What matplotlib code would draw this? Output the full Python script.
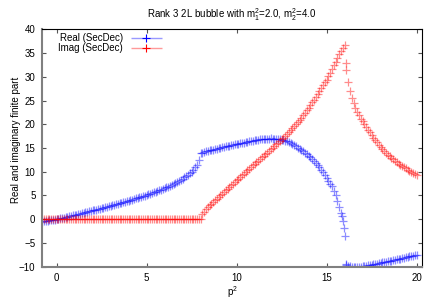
import matplotlib
matplotlib.use("Agg")
import matplotlib.pyplot as plt
from matplotlib.container import ErrorbarContainer
from matplotlib.legend_handler import HandlerErrorbar

plt.rcParams['font.family'] = ['Liberation Sans', 'DejaVu Sans']
plt.rcParams['mathtext.fontset'] = 'custom'
plt.rcParams['mathtext.rm'] = 'Liberation Sans'
plt.rcParams['mathtext.it'] = 'Liberation Sans:italic'

# ---------------- data ----------------
title = r'Rank 3 2L bubble with m$_1^2$=2.0, m$_2^2$=4.0'
xlabel = r'p$^2$'
ylabel = 'Real and imaginary finite part'
series_names = ['Real (SecDec)', 'Imag (SecDec)']
xticks = [0, 5, 10, 15, 20]
yticks = [-10, -5, 0, 5, 10, 15, 20, 25, 30, 35, 40]

p2_re = [-0.8, -0.7, -0.6, -0.5, -0.4, -0.3, -0.2, -0.1, 0.0,
         0.1, 0.2, 0.3, 0.4, 0.5, 0.6, 0.7, 0.8, 0.9, 1.0,
         1.1, 1.2, 1.3, 1.4, 1.5, 1.6, 1.7, 1.8, 1.9, 2.0,
         2.1, 2.2, 2.3, 2.4, 2.5, 2.6, 2.7, 2.8, 2.9, 3.0,
         3.1, 3.2, 3.3, 3.4, 3.5, 3.6, 3.7, 3.8, 3.9, 4.0,
         4.1, 4.2, 4.3, 4.4, 4.5, 4.6, 4.7, 4.8, 4.9, 5.0,
         5.1, 5.2, 5.3, 5.4, 5.5, 5.6, 5.7, 5.8, 5.9, 6.0,
         6.1, 6.2, 6.3, 6.4, 6.5, 6.6, 6.7, 6.8, 6.9, 7.0,
         7.1, 7.2, 7.3, 7.4, 7.5, 7.6, 7.7, 7.8, 7.9, 8.0,
         8.1, 8.2, 8.3, 8.4, 8.5, 8.6, 8.7, 8.8, 8.9, 9.0,
         9.1, 9.2, 9.3, 9.4, 9.5, 9.6, 9.7, 9.8, 9.9, 10.0,
         10.1, 10.2, 10.3, 10.4, 10.5, 10.6, 10.7, 10.8, 10.9, 11.0,
         11.1, 11.2, 11.3, 11.4, 11.5, 11.6, 11.7, 11.8, 11.9, 12.0,
         12.1, 12.2, 12.3, 12.4, 12.5, 12.6, 12.7, 12.8, 12.9, 13.0,
         13.1, 13.2, 13.3, 13.4, 13.5, 13.6, 13.7, 13.8, 13.9, 14.0,
         14.1, 14.2, 14.3, 14.4, 14.5, 14.6, 14.7, 14.8, 14.9, 15.0,
         15.1, 15.2, 15.3, 15.4, 15.5, 15.6, 15.7, 15.8, 15.85, 15.9, 15.95, 16.0,
         16.05, 16.1, 16.2, 16.3, 16.4, 16.5, 16.6, 16.7, 16.8, 16.9, 17.0,
         17.1, 17.2, 17.3, 17.4, 17.5, 17.6, 17.7, 17.8, 17.9, 18.0,
         18.1, 18.2, 18.3, 18.4, 18.5, 18.6, 18.7, 18.8, 18.9, 19.0,
         19.1, 19.2, 19.3, 19.4, 19.5, 19.6, 19.7, 19.8, 19.9, 20.0]
re_part = [-0.50, -0.44, -0.38, -0.32, -0.26, -0.19, -0.13, -0.06, 0.00,
           0.09, 0.18, 0.27, 0.36, 0.45, 0.54, 0.63, 0.72, 0.81, 0.90,
           0.99, 1.08, 1.18, 1.27, 1.36, 1.46, 1.55, 1.65, 1.74, 1.84,
           1.94, 2.03, 2.13, 2.23, 2.33, 2.43, 2.53, 2.63, 2.73, 2.84,
           2.94, 3.04, 3.15, 3.25, 3.36, 3.47, 3.58, 3.69, 3.80, 3.91,
           4.02, 4.14, 4.25, 4.37, 4.49, 4.61, 4.73, 4.86, 4.98, 5.11,
           5.24, 5.37, 5.51, 5.65, 5.79, 5.93, 6.08, 6.23, 6.39, 6.55,
           6.71, 6.88, 7.06, 7.24, 7.43, 7.63, 7.84, 8.06, 8.29, 8.53,
           8.79, 9.06, 9.35, 9.67, 10.02, 10.42, 10.90, 11.50, 12.45, 13.90,
           14.05, 14.17, 14.28, 14.38, 14.48, 14.58, 14.68, 14.78, 14.87, 14.96,
           15.05, 15.14, 15.23, 15.32, 15.41, 15.49, 15.58, 15.66, 15.74, 15.82,
           15.90, 15.98, 16.06, 16.14, 16.22, 16.30, 16.38, 16.46, 16.53, 16.60,
           16.67, 16.74, 16.80, 16.86, 16.91, 16.95, 16.98, 17.00, 17.01, 17.00,
           16.98, 16.94, 16.89, 16.82, 16.74, 16.64, 16.53, 16.40, 16.22, 16.00,
           15.80, 15.60, 15.35, 15.10, 14.85, 14.60, 14.30, 14.00, 13.70, 13.40,
           13.05, 12.70, 12.30, 11.90, 11.45, 10.95, 10.40, 9.85, 9.30, 8.70,
           8.10, 7.45, 6.90, 6.00, 5.00, 3.90, 2.60, 1.30, 0.60, -0.40, -1.90, -3.60,
           -9.45, -9.62, -9.80, -9.90, -9.96, -10.00, -10.02, -10.02, -10.00, -9.97, -9.92,
           -9.86, -9.80, -9.73, -9.66, -9.58, -9.50, -9.42, -9.34, -9.26, -9.18,
           -9.10, -9.02, -8.94, -8.86, -8.78, -8.70, -8.62, -8.54, -8.46, -8.38,
           -8.29, -8.20, -8.11, -8.02, -7.93, -7.84, -7.75, -7.66, -7.56, -7.46]

p2_im = [-0.8, -0.7, -0.6, -0.5, -0.4, -0.3, -0.2, -0.1, 0.0,
         0.1, 0.2, 0.3, 0.4, 0.5, 0.6, 0.7, 0.8, 0.9, 1.0,
         1.1, 1.2, 1.3, 1.4, 1.5, 1.6, 1.7, 1.8, 1.9, 2.0,
         2.1, 2.2, 2.3, 2.4, 2.5, 2.6, 2.7, 2.8, 2.9, 3.0,
         3.1, 3.2, 3.3, 3.4, 3.5, 3.6, 3.7, 3.8, 3.9, 4.0,
         4.1, 4.2, 4.3, 4.4, 4.5, 4.6, 4.7, 4.8, 4.9, 5.0,
         5.1, 5.2, 5.3, 5.4, 5.5, 5.6, 5.7, 5.8, 5.9, 6.0,
         6.1, 6.2, 6.3, 6.4, 6.5, 6.6, 6.7, 6.8, 6.9, 7.0,
         7.1, 7.2, 7.3, 7.4, 7.5, 7.6, 7.7, 7.8, 7.9, 8.0,
         8.1, 8.2, 8.3, 8.4, 8.5, 8.6, 8.7, 8.8, 8.9, 9.0,
         9.1, 9.2, 9.3, 9.4, 9.5, 9.6, 9.7, 9.8, 9.9, 10.0,
         10.1, 10.2, 10.3, 10.4, 10.5, 10.6, 10.7, 10.8, 10.9, 11.0,
         11.1, 11.2, 11.3, 11.4, 11.5, 11.6, 11.7, 11.8, 11.9, 12.0,
         12.1, 12.2, 12.3, 12.4, 12.5, 12.6, 12.7, 12.8, 12.9, 13.0,
         13.1, 13.2, 13.3, 13.4, 13.5, 13.6, 13.7, 13.8, 13.9, 14.0,
         14.1, 14.2, 14.3, 14.4, 14.5, 14.6, 14.7, 14.8, 14.9, 15.0,
         15.1, 15.2, 15.3, 15.4, 15.5, 15.6, 15.7, 15.8, 15.9, 16.0,
         16.05, 16.1, 16.2, 16.3, 16.4, 16.5, 16.6, 16.7, 16.8, 16.9, 17.0,
         17.1, 17.2, 17.3, 17.4, 17.5, 17.6, 17.7, 17.8, 17.9, 18.0,
         18.1, 18.2, 18.3, 18.4, 18.5, 18.6, 18.7, 18.8, 18.9, 19.0,
         19.1, 19.2, 19.3, 19.4, 19.5, 19.6, 19.7, 19.8, 19.9, 20.0]
im_part = [0.0, 0.0, 0.0, 0.0, 0.0, 0.0, 0.0, 0.0, 0.0,
           0.0, 0.0, 0.0, 0.0, 0.0, 0.0, 0.0, 0.0, 0.0, 0.0,
           0.0, 0.0, 0.0, 0.0, 0.0, 0.0, 0.0, 0.0, 0.0, 0.0,
           0.0, 0.0, 0.0, 0.0, 0.0, 0.0, 0.0, 0.0, 0.0, 0.0,
           0.0, 0.0, 0.0, 0.0, 0.0, 0.0, 0.0, 0.0, 0.0, 0.0,
           0.0, 0.0, 0.0, 0.0, 0.0, 0.0, 0.0, 0.0, 0.0, 0.0,
           0.0, 0.0, 0.0, 0.0, 0.0, 0.0, 0.0, 0.0, 0.0, 0.0,
           0.0, 0.0, 0.0, 0.0, 0.0, 0.0, 0.0, 0.0, 0.0, 0.0,
           0.0, 0.0, 0.0, 0.0, 0.0, 0.0, 0.0, 0.0, 0.0, 0.0,
           1.00, 1.60, 2.10, 2.50, 2.90, 3.30, 3.65, 4.00, 4.35, 4.70,
           5.05, 5.40, 5.75, 6.10, 6.45, 6.80, 7.15, 7.50, 7.85, 8.20,
           8.55, 8.90, 9.25, 9.60, 9.95, 10.30, 10.64, 10.98, 11.32, 11.65,
           11.99, 12.33, 12.67, 13.01, 13.35, 13.69, 14.03, 14.37, 14.71, 15.05,
           15.40, 15.75, 16.10, 16.45, 16.85, 17.20, 17.60, 18.00, 18.40, 18.80,
           19.20, 19.60, 20.05, 20.50, 20.95, 21.40, 21.90, 22.40, 22.90, 23.40,
           24.00, 24.60, 25.20, 25.80, 26.40, 27.00, 27.60, 28.20, 28.80, 29.40,
           30.10, 30.80, 31.60, 32.40, 33.20, 33.90, 34.70, 35.50, 36.10, 36.60,
           32.80, 31.40, 29.00, 27.00, 25.60, 24.40, 23.40, 22.60, 21.90, 21.20, 20.60,
           20.00, 19.40, 18.85, 18.30, 17.75, 17.20, 16.70, 16.20, 15.70, 15.20,
           14.80, 14.40, 14.00, 13.60, 13.25, 12.90, 12.60, 12.30, 12.00, 11.70,
           11.45, 11.20, 10.95, 10.70, 10.45, 10.20, 10.00, 9.80, 9.55, 9.30]

colors = ['#0000ff', '#ff0000']
light_colors = ['#9999ff', '#ff9999']

# ---------------- figure ----------------
fig = plt.figure(figsize=(4.4, 3.08), dpi=100)
ax = fig.add_axes([41.7 / 440, 1 - 266.7 / 308, 380 / 440, 237.4 / 308])

for xs, ys, c in [(p2_re, re_part, colors[0]), (p2_im, im_part, colors[1])]:
    ax.plot(xs, ys, linestyle='none', marker='+', markersize=6.2,
            markeredgewidth=0.9, color=c, alpha=0.45, clip_on=True)

# legend proxies (empty errorbar containers)
handles = []
for name, c, lc in zip(series_names, colors, light_colors):
    h = ax.errorbar([], [], xerr=[], fmt='+', color=c, ecolor=lc,
                    markersize=6, markeredgewidth=0.8, elinewidth=1.0,
                    capsize=2.5, capthick=1.0, label=name)
    handles.append(h)

leg = ax.legend(handles=handles, labels=series_names,
                handler_map={ErrorbarContainer: HandlerErrorbar(xerr_size=1.6, numpoints=1)},
                loc='upper left', bbox_to_anchor=(58 / 440, 1 - 33 / 308),
                bbox_transform=fig.transFigure, frameon=False, markerfirst=False,
                fontsize=7, borderpad=0, handlelength=3.2, handletextpad=0.8,
                labelspacing=0.0, borderaxespad=0, handleheight=0.6)

ax.set_xlim(-0.833, 20.28)
ax.set_ylim(-10, 40)
ax.set_xticks(xticks)
ax.set_yticks(yticks)
ax.tick_params(axis='both', which='both', direction='in', length=3, width=0.8,
               labelsize=7, pad=4.5, top=True, right=True, colors='#555555',
               labelcolor='black')

for side in ['left', 'bottom']:
    ax.spines[side].set_color('#808080')
    ax.spines[side].set_linewidth(1.5)
for side in ['top', 'right']:
    ax.spines[side].set_color('black')
    ax.spines[side].set_linewidth(0.8)

fig.text(232 / 440, 1 - 15 / 308, title, ha='center', va='center', fontsize=7)
fig.text(232 / 440, 1 - 292 / 308, xlabel, ha='center', va='center', fontsize=7)
fig.text(16 / 440, 1 - 140 / 308, ylabel, ha='center', va='center',
         rotation=90, fontsize=7)

fig.savefig('out.png', dpi=100)
